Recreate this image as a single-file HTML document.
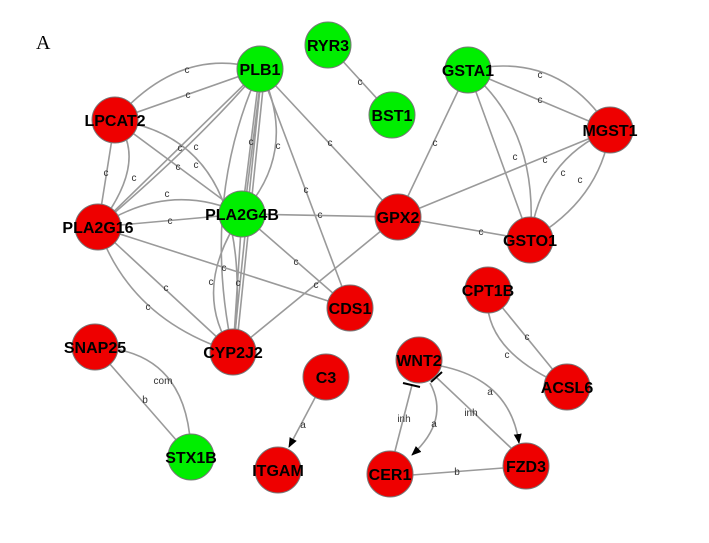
<!DOCTYPE html>
<html><head><style>body{margin:0;background:#fff}svg{display:block}</style></head><body>
<svg width="709" height="543" xmlns="http://www.w3.org/2000/svg" font-family="Liberation Sans, sans-serif">
<defs><marker id="ar" markerWidth="10" markerHeight="10" refX="9" refY="5" orient="auto" markerUnits="userSpaceOnUse"><path d="M0,1 L10,5 L0,9 z" fill="#000"/></marker></defs>
<text x="36" y="49" font-family="Liberation Serif, serif" font-size="20">A</text>
<g stroke="#9a9a9a" stroke-width="1.6" fill="none">
<path d="M115,120 Q180,45 260,69"/>
<line x1="115" y1="120" x2="260" y2="69"/>
<line x1="98" y1="227" x2="260" y2="69"/>
<path d="M98,227 Q200,140 260,69"/>
<line x1="115" y1="120" x2="242" y2="214"/>
<path d="M115,120 Q260,140 233,352"/>
<line x1="115" y1="120" x2="98" y2="227"/>
<path d="M115,120 Q150,160 98,227"/>
<path d="M98,227 Q170,180 242,214"/>
<line x1="98" y1="227" x2="242" y2="214"/>
<line x1="260" y1="69" x2="242" y2="214"/>
<line x1="262" y1="69" x2="244" y2="214"/>
<path d="M260,69 Q300,150 242,214"/>
<line x1="262" y1="69" x2="233" y2="352"/>
<line x1="265" y1="69" x2="236" y2="352"/>
<path d="M260,69 Q200,200 233,352"/>
<line x1="260" y1="69" x2="350" y2="308"/>
<line x1="260" y1="69" x2="398" y2="217"/>
<line x1="242" y1="214" x2="398" y2="217"/>
<line x1="242" y1="214" x2="350" y2="308"/>
<line x1="98" y1="227" x2="350" y2="308"/>
<line x1="98" y1="227" x2="233" y2="352"/>
<path d="M98,227 Q130,320 233,352"/>
<path d="M242,214 Q190,290 233,352"/>
<line x1="242" y1="214" x2="233" y2="352"/>
<line x1="233" y1="352" x2="398" y2="217"/>
<line x1="398" y1="217" x2="468" y2="70"/>
<line x1="398" y1="217" x2="610" y2="130"/>
<line x1="398" y1="217" x2="530" y2="240"/>
<path d="M468,70 Q560,50 610,130"/>
<line x1="468" y1="70" x2="610" y2="130"/>
<line x1="468" y1="70" x2="530" y2="240"/>
<path d="M468,70 Q540,130 530,240"/>
<path d="M610,130 Q540,160 530,240"/>
<path d="M610,130 Q600,200 530,240"/>
<path d="M488,290 Q480,350 567,387"/>
<line x1="488" y1="290" x2="567" y2="387"/>
<line x1="328" y1="45" x2="392" y2="115"/>
<line x1="95" y1="347" x2="191" y2="457"/>
<path d="M95,347 Q190,350 191,457"/>
</g>
<g stroke="#9a9a9a" stroke-width="1.6" fill="none">
<line x1="326" y1="377" x2="289" y2="447" marker-end="url(#ar)"/>
<line x1="395" y1="451" x2="412" y2="385"/>
<path d="M430,383 Q450,420 412,455" marker-end="url(#ar)"/>
<line x1="511" y1="448" x2="436" y2="377"/>
<path d="M441,366 Q510,380 519,443" marker-end="url(#ar)"/>
<line x1="412" y1="475" x2="503" y2="468"/>
</g>
<g stroke="#000" stroke-width="2">
<line x1="403" y1="383" x2="420" y2="387"/>
<line x1="431" y1="382" x2="442" y2="372"/>
</g>
<g font-size="10" fill="#333" text-anchor="middle">
<text x="187" y="73">c</text><text x="188" y="98">c</text>
<text x="180" y="151">c</text><text x="196" y="150">c</text><text x="178" y="170">c</text><text x="196" y="168">c</text>
<text x="106" y="176">c</text><text x="134" y="181">c</text><text x="167" y="197">c</text><text x="170" y="224">c</text>
<text x="251" y="145">c</text><text x="278" y="149">c</text><text x="306" y="193">c</text><text x="330" y="146">c</text>
<text x="320" y="218">c</text><text x="296" y="265">c</text><text x="224" y="271">c</text>
<text x="166" y="291">c</text><text x="148" y="310">c</text><text x="211" y="285">c</text><text x="238" y="286">c</text><text x="316" y="288">c</text>
<text x="435" y="146">c</text><text x="481" y="235">c</text><text x="540" y="78">c</text><text x="540" y="103">c</text>
<text x="515" y="160">c</text><text x="545" y="163">c</text><text x="563" y="176">c</text><text x="580" y="183">c</text>
<text x="507" y="358">c</text><text x="527" y="340">c</text><text x="360" y="85">c</text>
<text x="145" y="403">b</text><text x="163" y="384">com</text><text x="303" y="428">a</text>
<text x="404" y="422">inh</text><text x="434" y="427">a</text><text x="471" y="416">inh</text><text x="490" y="395">a</text><text x="457" y="475">b</text>
</g>
<g stroke="#777" stroke-width="1">
<circle cx="260" cy="69" r="23" fill="#00ee00"/>
<circle cx="328" cy="45" r="23" fill="#00ee00"/>
<circle cx="392" cy="115" r="23" fill="#00ee00"/>
<circle cx="468" cy="70" r="23" fill="#00ee00"/>
<circle cx="242" cy="214" r="23" fill="#00ee00"/>
<circle cx="191" cy="457" r="23" fill="#00ee00"/>
<circle cx="115" cy="120" r="23" fill="#ee0000"/>
<circle cx="610" cy="130" r="23" fill="#ee0000"/>
<circle cx="98" cy="227" r="23" fill="#ee0000"/>
<circle cx="398" cy="217" r="23" fill="#ee0000"/>
<circle cx="530" cy="240" r="23" fill="#ee0000"/>
<circle cx="350" cy="308" r="23" fill="#ee0000"/>
<circle cx="488" cy="290" r="23" fill="#ee0000"/>
<circle cx="233" cy="352" r="23" fill="#ee0000"/>
<circle cx="95" cy="347" r="23" fill="#ee0000"/>
<circle cx="326" cy="377" r="23" fill="#ee0000"/>
<circle cx="419" cy="360" r="23" fill="#ee0000"/>
<circle cx="567" cy="387" r="23" fill="#ee0000"/>
<circle cx="278" cy="470" r="23" fill="#ee0000"/>
<circle cx="390" cy="474" r="23" fill="#ee0000"/>
<circle cx="526" cy="466" r="23" fill="#ee0000"/>
</g>
<g font-size="16" font-weight="bold" fill="#000" text-anchor="middle">
<text x="260" y="75">PLB1</text><text x="328" y="51">RYR3</text><text x="392" y="121">BST1</text><text x="468" y="76">GSTA1</text>
<text x="242" y="220">PLA2G4B</text><text x="191" y="463">STX1B</text><text x="115" y="126">LPCAT2</text><text x="610" y="136">MGST1</text>
<text x="98" y="233">PLA2G16</text><text x="398" y="223">GPX2</text><text x="530" y="246">GSTO1</text><text x="350" y="314">CDS1</text>
<text x="488" y="296">CPT1B</text><text x="233" y="358">CYP2J2</text><text x="95" y="353">SNAP25</text><text x="326" y="383">C3</text>
<text x="419" y="366">WNT2</text><text x="567" y="393">ACSL6</text><text x="278" y="476">ITGAM</text><text x="390" y="480">CER1</text><text x="526" y="472">FZD3</text>
</g>
</svg>
</body></html>
